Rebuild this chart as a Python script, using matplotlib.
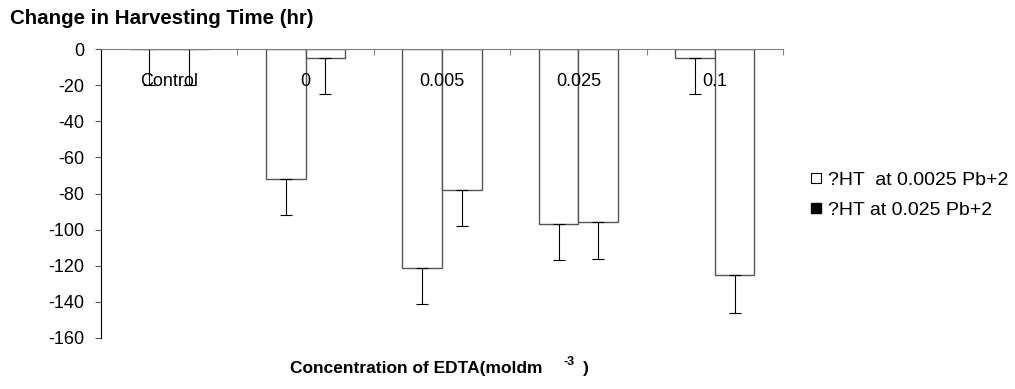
import matplotlib
matplotlib.use("Agg")
import matplotlib.pyplot as plt
from matplotlib.lines import Line2D
from matplotlib.transforms import blended_transform_factory
import numpy as np

plt.rcParams["font.family"] = ["Liberation Sans", "DejaVu Sans"]

# data
categories = ["Control", "0", "0.005", "0.025", "0.1"]
ht_low_pb = [0, -72, -121, -97, -5]      # ?HT at 0.0025 Pb+2
ht_high_pb = [0, -5, -78, -96, -125]     # ?HT at 0.025 Pb+2
err_low_pb = [20, 20, 20, 20, 20]
err_high_pb = [20, 20, 20, 20, 21]
yticks = [0, -20, -40, -60, -80, -100, -120, -140, -160]
legend_labels = ["?HT  at 0.0025 Pb+2", "?HT at 0.025 Pb+2"]

W, H = 1015, 389
fig = plt.figure(figsize=(W / 100, H / 100), dpi=100)
ax = fig.add_axes([101 / W, 1 - 338 / H, (783 - 101) / W, (338 - 49) / H])

x = np.arange(len(categories))
bw = 0.29
EDGE = "#555555"

for offs, vals, errs in [(-bw / 2, ht_low_pb, err_low_pb), (bw / 2, ht_high_pb, err_high_pb)]:
    ax.bar(x + offs, vals, width=bw, color="white", edgecolor=EDGE, linewidth=1.0, zorder=2)
    ax.errorbar(
        x + offs, vals,
        yerr=[errs, [0] * len(errs)],
        fmt="none", ecolor="black", elinewidth=0.8, capsize=4, capthick=0.8, zorder=4,
    )

ax.set_xlim(-0.5, len(categories) - 0.5)
ax.set_ylim(-160, 0)
ax.set_yticks(yticks)
ax.set_yticklabels([str(v) for v in yticks])

# category axis sits at y = 0
ax.spines["bottom"].set_position(("data", 0))
ax.spines["bottom"].set_color("#808080")
ax.spines["bottom"].set_zorder(5)
ax.spines["top"].set_visible(False)
ax.spines["right"].set_visible(False)
ax.spines["left"].set_color("black")

ax.set_xticks(np.arange(len(categories) + 1) - 0.5)
ax.set_xticklabels([])
ax.tick_params(axis="x", direction="out", length=4, color="#808080")
ax.tick_params(axis="y", direction="out", length=4, pad=8, labelsize=13, color="#555555")

# category labels sit just under the axis, drawn over the bars
trans = blended_transform_factory(ax.transData, ax.transAxes)
for xi, cat in zip(x, categories):
    ax.text(xi, 1 - 32 / 289, cat, transform=trans, ha="center", va="center",
            fontsize=13, zorder=3)

fig.text(10 / W, 1 - 18 / H, "Change in Harvesting Time (hr)",
         fontsize=14.8, fontweight="bold", ha="left", va="center")

fig.text(290 / W, 1 - 369 / H, "Concentration of EDTA(moldm",
         fontsize=12.5, fontweight="bold", ha="left", va="center")
fig.text(563 / W, 1 - 362 / H, "-3", fontsize=9, fontweight="bold", ha="left", va="center")
fig.text(583 / W, 1 - 369 / H, ")", fontsize=12.5, fontweight="bold", ha="left", va="center")

handles = [
    Line2D([], [], linestyle="none", marker="s", markersize=7,
           markerfacecolor="white", markeredgecolor="black", markeredgewidth=0.8),
    Line2D([], [], linestyle="none", marker="s", markersize=7,
           markerfacecolor="black", markeredgecolor="black"),
]
fig.legend(handles, legend_labels, loc="center left",
           bbox_to_anchor=(800 / W, 1 - 195 / H), frameon=False, fontsize=14,
           handlelength=0.6, handletextpad=0.35, labelspacing=0.65, borderpad=0)

fig.savefig("out.png", dpi=100)
